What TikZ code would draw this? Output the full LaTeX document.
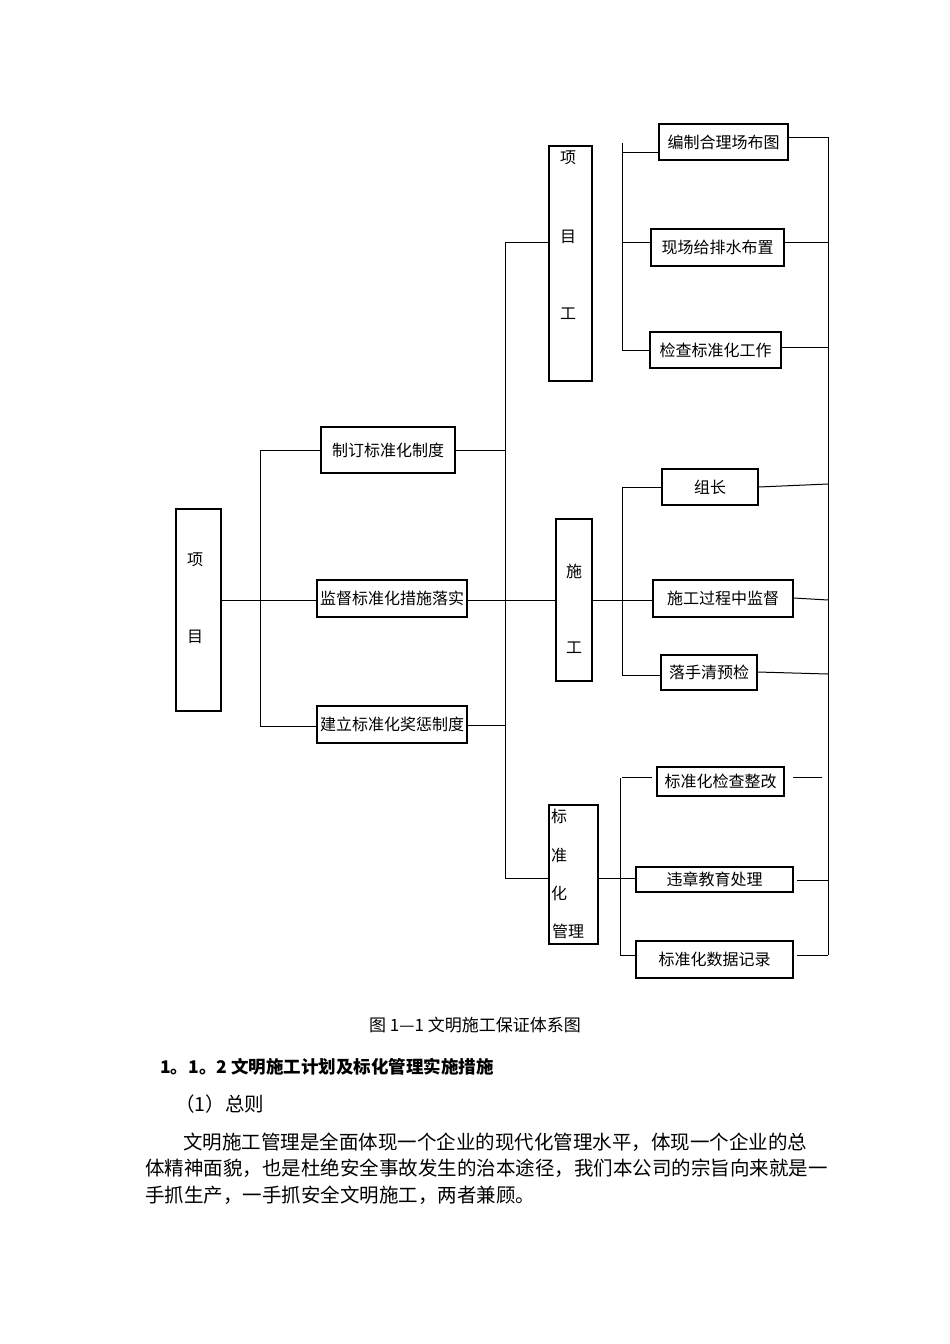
\documentclass[tikz,border=0pt]{standalone}
\usepackage{fontspec}
\setmainfont{Noto Sans CJK SC}
\begin{document}
\begin{tikzpicture}[x=1pt,y=-1pt,
  bx/.style={draw,line width=1.2pt,inner sep=0pt,font=\fontsize{16}{18}\selectfont},
  ln/.style={line width=1pt},
  txt/.style={font=\fontsize{16}{18}\selectfont,inner sep=0pt},
  ptxt/.style={font=\fontsize{19.5}{22}\selectfont,inner sep=0pt}]
\useasboundingbox (0,0) rectangle (950,1344);
\newcommand{\bbox}[6]{\node[bx,minimum width=#3-#1,minimum height=#4-#2] (#5) at ({(#1+#3)/2},{(#2+#4)/2}) {#6};}
% left
\bbox{176}{509}{221}{711}{root}{}
\node[txt] at (195,560) {项};
\node[txt] at (195,637) {目};
\bbox{321}{427}{455}{473}{a1}{制订标准化制度}
\bbox{317}{580}{467}{617}{a2}{监督标准化措施落实}
\bbox{317}{706}{467}{743}{a3}{建立标准化奖惩制度}
\coordinate (t1a) at (260,450); \coordinate (t1b) at (260,726);
\draw[ln] (t1a)--(t1b);
\draw[ln] (root.east|-0,600)--(a2.west|-0,600);
\draw[ln] (t1a)--(a1.west|-t1a);
\draw[ln] (t1b)--(a3.west|-t1b);
% middle boxes
\bbox{549}{146}{592}{381}{b1}{}
\node[txt] at (568,158) {项}; \node[txt] at (568,237) {目}; \node[txt] at (568,314) {工};
\bbox{556}{519}{592}{681}{b2}{}
\node[txt] at (574,571) {施}; \node[txt] at (574,648) {工};
\bbox{549}{805}{598}{944}{b3}{}
\node[txt] at (559,816) {标}; \node[txt] at (559,855) {准}; \node[txt] at (559,893) {化}; \node[txt] at (568,931) {管理};
\coordinate (t2a) at (505,242); \coordinate (t2b) at (505,878);
\draw[ln] (t2a)--(t2b);
\draw[ln] (a1.east|-0,450)--(505,450);
\draw[ln] (a2.east|-0,600)--(b2.west|-0,600);
\draw[ln] (a3.east|-0,725)--(505,725);
\draw[ln] (t2a)--(b1.west|-t2a);
\draw[ln] (t2b)--(b3.west|-t2b);
% right boxes
\bbox{659}{124}{788}{160}{c1}{编制合理场布图}
\bbox{651}{229}{784}{266}{c2}{现场给排水布置}
\bbox{650}{332}{781}{368}{c3}{检查标准化工作}
\bbox{662}{469}{758}{505}{c4}{组长}
\bbox{653}{580}{793}{617}{c5}{施工过程中监督}
\bbox{661}{655}{757}{690}{c6}{落手清预检}
\bbox{657}{767}{784}{796}{c7}{标准化检查整改}
\bbox{636}{867}{793}{892}{c8}{违章教育处理}
\bbox{636}{941}{793}{978}{c9}{标准化数据记录}
% group trunks
\draw[ln] (622,143)--(622,350);
\draw[ln] (622,152)--(659,152);
\draw[ln] (622,242)--(c2.west|-0,242);
\draw[ln] (622,350)--(c3.west|-0,350);
\draw[ln] (622,487)--(622,675);
\draw[ln] (622,487)--(c4.west|-0,487);
\draw[ln] (b2.east|-0,600)--(c5.west|-0,600);
\draw[ln] (622,675)--(c6.west|-0,675);
\draw[ln] (620,778)--(620,955);
\draw[ln] (622,777)--(652,777);
\draw[ln] (b3.east|-0,878)--(635,878);
\draw[ln] (620,955)--(c9.west|-0,955);
% right trunk
\coordinate (r1) at (828,137); \coordinate (r2) at (828,955);
\draw[ln] (r1)--(r2);
\draw[ln] (c1.east|-r1)--(r1);
\draw[ln] (c2.east|-0,242)--(828,242);
\draw[ln] (c3.east|-0,347)--(828,347);
\draw[ln] (c4.east|-0,487)--(828,484);
\draw[ln] (c5.east|-0,598)--(828,600);
\draw[ln] (c6.east|-0,672)--(828,674);
\draw[ln] (793,777)--(822,777);
\draw[ln] (797,880)--(828,880);
\draw[ln] (797,955)--(828,955);
% text
\node[txt,font=\fontsize{17}{19}\selectfont] (cap) at (475,1025) {图 1—1 文明施工保证体系图};
\node[ptxt,anchor=west,font=\fontsize{17.5}{20}\selectfont\bfseries] (h) at (160,1067) {1。1。2 文明施工计划及标化管理实施措施};
\node[ptxt,anchor=west] (s) at (175,1104) {（1）总则};
\node[ptxt,anchor=west] (p1) at (183,1142) {文明施工管理是全面体现一个企业的现代化管理水平，体现一个企业的总};
\node[ptxt,anchor=west] (p2) at (145,1168) {体精神面貌，也是杜绝安全事故发生的治本途径，我们本公司的宗旨向来就是一};
\node[ptxt,anchor=west] (p3) at (145,1195) {手抓生产，一手抓安全文明施工，两者兼顾。};
\end{tikzpicture}
\end{document}
